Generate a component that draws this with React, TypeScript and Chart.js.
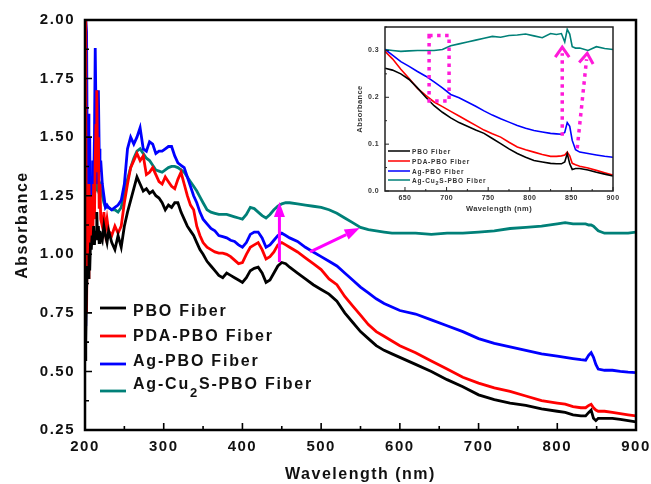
import React, { useEffect, useRef } from "react";
import { Chart, registerables } from "chart.js";

Chart.register(...registerables);

// ---------------- Main chart data ----------------
const wavelengths = [
  200, 201, 202, 203, 204, 205, 206, 207, 208, 209, 210, 211, 212, 213, 214, 215, 216, 217, 218, 219, 220,
  222, 224, 226, 228,
  230, 234, 238, 242, 246, 250, 254, 258, 262, 266, 270, 274, 278, 282, 286, 290, 294, 298, 302, 306, 310,
  314, 318, 322, 326, 330, 334, 338, 342, 346, 350,
  355, 360, 365, 370, 375, 380, 385, 390, 395, 400, 405, 410, 415, 420, 425, 430, 435, 440, 445, 450, 455, 460,
  470, 480, 490, 500, 510, 520, 530, 540, 550, 560, 570, 580, 590, 600,
  620, 640, 660, 680, 700, 720, 740, 760, 780, 800,
  810, 820, 830, 836, 840, 843, 846, 849, 852, 860, 870, 880, 890, 900,
];

const pboFiber = [
  0.55, 0.62, 0.85, 0.95, 0.9, 1.0, 0.93, 1.05, 1.02, 1.08, 1.05, 1.12, 1.04, 1.1, 1.07, 1.18, 1.06, 1.12, 1.05, 1.1, 1.08,
  1.06, 1.12, 1.08, 1.05,
  1.1, 1.05, 1.02, 1.08, 1.03, 1.12, 1.18, 1.23, 1.28, 1.33, 1.3, 1.27, 1.28, 1.26, 1.27, 1.25, 1.24, 1.22, 1.19, 1.21, 1.2,
  1.22, 1.22, 1.18, 1.15, 1.12, 1.1, 1.08, 1.05, 1.02, 1.0,
  0.97, 0.95, 0.93, 0.91, 0.9, 0.92, 0.91, 0.9, 0.89, 0.88, 0.9, 0.93, 0.94, 0.945, 0.92, 0.88, 0.89, 0.92, 0.95, 0.965, 0.96, 0.945,
  0.92, 0.895, 0.87, 0.85, 0.83, 0.8, 0.75, 0.71, 0.67, 0.64, 0.61, 0.59, 0.575, 0.56,
  0.53, 0.5, 0.465, 0.435, 0.4, 0.38, 0.365, 0.355, 0.34, 0.33,
  0.325, 0.315, 0.31, 0.31, 0.325, 0.335, 0.3, 0.29, 0.3, 0.3, 0.3, 0.295, 0.29, 0.285,
];

const pdaPboFiber = [
  2.0, 1.6, 0.75, 1.2, 0.9, 1.3, 1.1, 1.2, 1.05, 1.25, 1.1, 1.3, 1.15, 1.4, 1.55, 1.7, 1.35, 1.5, 1.2, 1.3, 1.15,
  1.12, 1.18, 1.1, 1.15,
  1.1, 1.08, 1.12, 1.09, 1.12, 1.22, 1.3, 1.37, 1.4, 1.43, 1.4, 1.42, 1.34, 1.35, 1.37, 1.34, 1.31, 1.3, 1.33, 1.31, 1.29,
  1.28, 1.32, 1.35, 1.3, 1.25, 1.21, 1.19, 1.12, 1.08, 1.05,
  1.03, 1.02, 1.01, 1.005, 1.005, 1.0, 0.99, 0.975, 0.96, 0.965, 1.0, 1.03, 1.04, 1.05, 1.02, 0.98, 0.99, 1.01, 1.04, 1.05, 1.04, 1.03,
  1.01, 0.985, 0.96, 0.935, 0.895, 0.87, 0.82, 0.78, 0.74, 0.7, 0.67, 0.65, 0.63, 0.61,
  0.58, 0.545, 0.51, 0.475, 0.45, 0.43, 0.415, 0.395, 0.375, 0.365,
  0.36, 0.35, 0.345, 0.345, 0.355, 0.36, 0.345, 0.335, 0.33, 0.33, 0.325, 0.32, 0.315, 0.31,
];

const agPboFiber = [
  0.7, 2.0, 1.95, 1.3, 1.6, 1.2, 1.5, 1.1, 1.3, 1.25, 1.4, 1.3, 1.5, 1.88, 1.6, 1.3, 1.5, 1.7, 1.45, 1.35, 1.4,
  1.3, 1.25, 1.2, 1.21,
  1.2, 1.19, 1.2, 1.21, 1.23, 1.3, 1.45, 1.5, 1.47, 1.5, 1.54, 1.45, 1.44, 1.48, 1.47, 1.43, 1.44, 1.44, 1.45, 1.46, 1.46,
  1.42, 1.39, 1.38, 1.37, 1.33, 1.29, 1.25, 1.22, 1.18, 1.15,
  1.13, 1.11, 1.1, 1.08, 1.075, 1.07, 1.06, 1.055, 1.04, 1.03, 1.05, 1.085, 1.095, 1.095, 1.07, 1.03, 1.04, 1.06, 1.08, 1.09, 1.08, 1.07,
  1.055, 1.03, 1.01, 0.99, 0.97, 0.95, 0.92, 0.89, 0.86, 0.835, 0.81, 0.79, 0.775, 0.76,
  0.745, 0.72, 0.695, 0.67, 0.64, 0.62, 0.605, 0.59, 0.575, 0.565,
  0.56, 0.555, 0.55, 0.548, 0.57, 0.58, 0.56, 0.53, 0.51, 0.505, 0.505, 0.5, 0.497, 0.495,
];

const agCu2sPboFiber = [
  1.63, 1.55, 1.45, 1.38, 1.34, 1.31, 1.3, 1.3, 1.3, 1.29, 1.3, 1.3, 1.29, 1.3, 1.3, 1.29, 1.3, 1.31, 1.31, 1.3, 1.28,
  1.25, 1.22, 1.2, 1.2,
  1.2, 1.19, 1.19, 1.18, 1.2, 1.27, 1.32, 1.37, 1.41, 1.44, 1.45, 1.43, 1.41, 1.4, 1.38, 1.36, 1.355, 1.35, 1.36, 1.37, 1.375,
  1.375, 1.37, 1.36, 1.35, 1.33, 1.31, 1.29, 1.27, 1.245, 1.22,
  1.19, 1.18, 1.175, 1.17, 1.17, 1.17, 1.165, 1.16, 1.155, 1.15, 1.17, 1.2, 1.195, 1.18, 1.165, 1.155, 1.17, 1.19, 1.205, 1.215, 1.22, 1.22,
  1.215, 1.21, 1.205, 1.2, 1.19, 1.175, 1.155, 1.135, 1.115, 1.105, 1.1, 1.095, 1.09, 1.09,
  1.09, 1.085, 1.09, 1.09, 1.095, 1.1, 1.11, 1.115, 1.12, 1.13,
  1.135, 1.13, 1.13, 1.13, 1.125, 1.125, 1.12, 1.11, 1.1, 1.09, 1.09, 1.09, 1.09, 1.095,
];

const seriesLabels = ["PBO Fiber", "PDA-PBO Fiber", "Ag-PBO Fiber", "Ag-Cu\u2082S-PBO Fiber"];
const seriesColors = ["#000000", "#ff0000", "#0000ff", "#008078"];
const mainSeries = [pboFiber, pdaPboFiber, agPboFiber, agCu2sPboFiber];

// main axis ticks
const mainXRange = [200, 900];
const mainYRange = [0.25, 2.0];
const mainXStep = 100;
const mainYStep = 0.25;

// main annotations (data units): [x1, y1, x2, y2]
const mainArrows = [
  [447, 0.967, 447, 1.223],
  [486, 1.01, 549, 1.112],
];

// ---------------- Inset data ----------------
const insetWavelengths = [
  626, 635, 645, 655, 665, 675, 685, 695, 705, 715, 725, 735, 745, 755, 765, 775, 785, 795, 805, 815, 825,
  832, 838, 842, 845, 848, 851, 855, 860, 870, 880, 890, 900,
];
const insetPbo = [
  0.262, 0.258, 0.25, 0.238, 0.22, 0.2, 0.182, 0.168, 0.156, 0.146, 0.138, 0.13, 0.123, 0.112, 0.101, 0.09, 0.08, 0.072, 0.065, 0.062, 0.059,
  0.058, 0.058, 0.062, 0.08, 0.058, 0.046, 0.048, 0.048, 0.045, 0.04, 0.036, 0.032,
];
const insetPdaPbo = [
  0.298, 0.282, 0.26, 0.24, 0.219, 0.204, 0.19, 0.18, 0.17, 0.16, 0.15, 0.14, 0.13, 0.122, 0.115, 0.104, 0.094, 0.088, 0.083, 0.078, 0.074,
  0.074, 0.075, 0.077, 0.083, 0.075, 0.059, 0.056, 0.053, 0.049, 0.044, 0.039, 0.034,
];
const insetAgPbo = [
  0.302, 0.29, 0.276, 0.266, 0.255, 0.245, 0.233, 0.22, 0.206, 0.199, 0.19, 0.181, 0.171, 0.162, 0.154, 0.147, 0.14, 0.134, 0.129, 0.126, 0.123,
  0.122, 0.121, 0.125, 0.146, 0.138, 0.108, 0.088, 0.083, 0.08, 0.077, 0.074, 0.072,
];
const insetAgCu2sPbo = [
  0.302, 0.3, 0.298, 0.299, 0.3, 0.3, 0.3, 0.302, 0.31, 0.314, 0.318, 0.322, 0.326, 0.33, 0.328, 0.332, 0.333, 0.335, 0.331, 0.327, 0.336,
  0.334, 0.336, 0.318, 0.345, 0.335, 0.308, 0.305, 0.305, 0.3, 0.308, 0.304, 0.302,
];
const insetSeries = [insetPbo, insetPdaPbo, insetAgPbo, insetAgCu2sPbo];

const insetXRange = [626, 900];
const insetYRange = [0, 0.35];

// inset annotations (data units)
const insetBox = [679, 0.192, 703, 0.332];
const insetArrows = [
  [839, 0.118, 839, 0.307],
  [857, 0.091, 869, 0.294],
];

const FONT = '"Liberation Sans", Arial, Helvetica, sans-serif';
const MAGENTA = "#ff00ff";
const INSET_MAGENTA = "#ff1ad9";

function drawLabel(ctx: CanvasRenderingContext2D, text: string, x: number, y: number, size: number, subSize: number, subDrop: number) {
  const parts = text.split("\u2082");
  let cx = x;
  ctx.font = `bold ${size}px ${FONT}`;
  ctx.fillText(parts[0], cx, y);
  cx += ctx.measureText(parts[0]).width;
  if (parts.length > 1) {
    ctx.font = `bold ${subSize}px ${FONT}`;
    ctx.fillText("2", cx, y + subDrop);
    cx += ctx.measureText("2").width;
    ctx.font = `bold ${size}px ${FONT}`;
    ctx.fillText(parts[1], cx, y);
  }
}

function drawFilledArrow(ctx: CanvasRenderingContext2D, x1: number, y1: number, x2: number, y2: number, headLen: number, headHalf: number) {
  const dx = x2 - x1, dy = y2 - y1;
  const L = Math.hypot(dx, dy);
  const ux = dx / L, uy = dy / L;
  const nx = -uy, ny = ux;
  const bx = x2 - ux * headLen, by = y2 - uy * headLen;
  ctx.beginPath();
  ctx.moveTo(x1, y1);
  ctx.lineTo(bx, by);
  ctx.stroke();
  ctx.beginPath();
  ctx.moveTo(x2, y2);
  ctx.lineTo(bx + nx * headHalf, by + ny * headHalf);
  ctx.lineTo(bx - nx * headHalf, by - ny * headHalf);
  ctx.closePath();
  ctx.fill();
}

const mainDecor = {
  id: "mainDecor",
  beforeDraw(chart: any) {
    chart.ctx.letterSpacing = "1.5px";
  },
  afterDraw(chart: any) {
    const { ctx, chartArea: a, scales } = chart;
    const xs = scales.x, ys = scales.y;
    ctx.save();
    ctx.letterSpacing = "0px";
    // frame
    ctx.strokeStyle = "#000";
    ctx.lineWidth = 2.5;
    ctx.strokeRect(a.left, a.top, a.right - a.left, a.bottom - a.top);
    // inward ticks
    ctx.lineWidth = 1.6;
    ctx.beginPath();
    for (let v = mainXRange[0]; v <= mainXRange[1] + 1e-6; v += mainXStep / 2) {
      const p = xs.getPixelForValue(v);
      const major = Math.abs((v - mainXRange[0]) % mainXStep) < 1e-6;
      ctx.moveTo(p, a.bottom);
      ctx.lineTo(p, a.bottom - (major ? 7 : 4));
    }
    for (let k = 0; mainYRange[0] + k * mainYStep / 2 <= mainYRange[1] + 1e-6; k++) {
      const v = mainYRange[0] + k * mainYStep / 2;
      const p = ys.getPixelForValue(v);
      ctx.moveTo(a.left, p);
      ctx.lineTo(a.left + (k % 2 === 0 ? 7 : 4), p);
    }
    ctx.stroke();
    // magenta arrows
    ctx.strokeStyle = MAGENTA;
    ctx.fillStyle = MAGENTA;
    ctx.lineWidth = 3;
    for (const [x1, y1, x2, y2] of mainArrows) {
      drawFilledArrow(ctx, xs.getPixelForValue(x1), ys.getPixelForValue(y1), xs.getPixelForValue(x2), ys.getPixelForValue(y2), 15, 5.5);
    }
    // legend
    const lineY = [308, 336, 364, 391];
    const textY = [316, 341, 366, 389];
    ctx.letterSpacing = "1.8px";
    ctx.textBaseline = "alphabetic";
    ctx.textAlign = "left";
    seriesLabels.forEach((label, i) => {
      ctx.strokeStyle = seriesColors[i];
      ctx.lineWidth = 2.8;
      ctx.beginPath();
      ctx.moveTo(100, lineY[i]);
      ctx.lineTo(126, lineY[i]);
      ctx.stroke();
      ctx.fillStyle = "#111";
      drawLabel(ctx, label, 133, textY[i], 16, 13, 8);
    });
    ctx.restore();
  },
};

const insetDecor = {
  id: "insetDecor",
  beforeDraw(chart: any) {
    chart.ctx.letterSpacing = "0.4px";
  },
  afterDraw(chart: any) {
    const { ctx, chartArea: a, scales } = chart;
    const xs = scales.x, ys = scales.y;
    ctx.save();
    ctx.letterSpacing = "0px";
    ctx.strokeStyle = "#222";
    ctx.lineWidth = 1.5;
    ctx.strokeRect(a.left, a.top, a.right - a.left, a.bottom - a.top);
    ctx.lineWidth = 1;
    ctx.beginPath();
    for (let v = 650; v <= insetXRange[1] + 1e-6; v += 25) {
      const p = xs.getPixelForValue(v);
      const major = v % 50 === 0;
      ctx.moveTo(p, a.bottom);
      ctx.lineTo(p, a.bottom - (major ? 4 : 2));
    }
    for (let k = 0; k * 0.05 <= insetYRange[1] + 1e-6; k++) {
      const p = ys.getPixelForValue(k * 0.05);
      ctx.moveTo(a.left, p);
      ctx.lineTo(a.left + (k % 2 === 0 ? 4 : 2), p);
    }
    ctx.stroke();
    // dotted annotations
    ctx.strokeStyle = INSET_MAGENTA;
    ctx.lineWidth = 3.5;
    ctx.setLineDash([3.5, 4.5]);
    const bx1 = xs.getPixelForValue(insetBox[0]);
    const by1 = ys.getPixelForValue(insetBox[1]);
    const bx2 = xs.getPixelForValue(insetBox[2]);
    const by2 = ys.getPixelForValue(insetBox[3]);
    ctx.strokeRect(bx1, by2, bx2 - bx1, by1 - by2);
    for (const [x1, y1, x2, y2] of insetArrows) {
      const px1 = xs.getPixelForValue(x1), py1 = ys.getPixelForValue(y1);
      const px2 = xs.getPixelForValue(x2), py2 = ys.getPixelForValue(y2);
      const L = Math.hypot(px2 - px1, py2 - py1);
      const ux = (px2 - px1) / L, uy = (py2 - py1) / L;
      ctx.setLineDash([3.5, 4.5]);
      ctx.beginPath();
      ctx.moveTo(px1, py1);
      ctx.lineTo(px2 - ux * 6, py2 - uy * 6);
      ctx.stroke();
      ctx.setLineDash([]);
      ctx.lineWidth = 3;
      const nx = -uy, ny = ux;
      ctx.beginPath();
      ctx.moveTo(px2 - ux * 10 + nx * 7, py2 - uy * 10 + ny * 7);
      ctx.lineTo(px2, py2);
      ctx.lineTo(px2 - ux * 10 - nx * 7, py2 - uy * 10 - ny * 7);
      ctx.stroke();
      ctx.lineWidth = 3.5;
    }
    ctx.setLineDash([]);
    // legend
    const lineY = [129, 139, 149, 158];
    ctx.textBaseline = "alphabetic";
    ctx.letterSpacing = "0.8px";
    seriesLabels.forEach((label, i) => {
      ctx.strokeStyle = seriesColors[i];
      ctx.lineWidth = 1.5;
      ctx.beginPath();
      ctx.moveTo(48, lineY[i]);
      ctx.lineTo(70, lineY[i]);
      ctx.stroke();
      ctx.fillStyle = "#333";
      drawLabel(ctx, label, 72, lineY[i] + 2.5, 6.5, 5.5, 2);
    });
    ctx.restore();
  },
};

function noEdgePadding(s: any) {
  s.paddingLeft = 0;
  s.paddingRight = 0;
  s.paddingTop = 0;
  s.paddingBottom = 0;
}

function makeMainConfig(): any {
  const tickFont = { family: FONT, size: 15, weight: "bold" as const };
  const titleFont = { family: FONT, size: 16, weight: "bold" as const };
  return {
    type: "line",
    data: {
      datasets: seriesLabels.map((label, i) => ({
        label,
        data: wavelengths.map((w, j) => ({ x: w, y: mainSeries[i][j] })),
        borderColor: seriesColors[i],
        backgroundColor: seriesColors[i],
        borderWidth: 2.8,
        pointRadius: 0,
        fill: false,
        tension: 0,
      })),
    },
    options: {
      animation: false,
      responsive: false,
      maintainAspectRatio: false,
      layout: { padding: { left: 0, top: 20, right: 15, bottom: 0 } },
      plugins: { legend: { display: false }, tooltip: { enabled: false } },
      scales: {
        x: {
          type: "linear",
          min: mainXRange[0],
          max: mainXRange[1],
          ticks: { stepSize: mainXStep, includeBounds: false, padding: 8, color: "#111", font: tickFont, maxRotation: 0, callback: (v: any) => String(v) },
          grid: { display: false, drawTicks: false },
          border: { display: false },
          title: { display: true, text: "Wavelength (nm)", color: "#111", font: titleFont, padding: { top: 0, bottom: 0 } },
          afterFit: (s: any) => { s.height = 54; noEdgePadding(s); },
        },
        y: {
          type: "linear",
          min: mainYRange[0],
          max: mainYRange[1],
          ticks: { stepSize: mainYStep, includeBounds: false, padding: 10, color: "#111", font: tickFont, callback: (v: any) => Number(v).toFixed(2) },
          grid: { display: false, drawTicks: false },
          border: { display: false },
          title: { display: true, text: "Absorbance", color: "#111", font: titleFont, padding: { top: 13, bottom: 0 } },
          afterFit: (s: any) => { s.width = 85; noEdgePadding(s); },
        },
      },
    },
    plugins: [mainDecor],
  };
}

function makeInsetConfig(): any {
  const tickFont = { family: FONT, size: 7, weight: "bold" as const };
  const titleFont = { family: FONT, size: 7.5, weight: "bold" as const };
  return {
    type: "line",
    data: {
      datasets: seriesLabels.map((label, i) => ({
        label,
        data: insetWavelengths.map((w, j) => ({ x: w, y: insetSeries[i][j] })),
        borderColor: seriesColors[i],
        borderWidth: 1.6,
        pointRadius: 0,
        fill: false,
        tension: 0,
      })),
    },
    options: {
      animation: false,
      responsive: false,
      maintainAspectRatio: false,
      layout: { padding: { left: 0, top: 5, right: 17, bottom: 0 } },
      plugins: { legend: { display: false }, tooltip: { enabled: false } },
      scales: {
        x: {
          type: "linear",
          min: insetXRange[0],
          max: insetXRange[1],
          ticks: { stepSize: 50, includeBounds: false, padding: 3, color: "#333", font: tickFont, maxRotation: 0, callback: (v: any) => String(v) },
          grid: { display: false, drawTicks: false },
          border: { display: false },
          title: { display: true, text: "Wavelength (nm)", color: "#333", font: titleFont, padding: { top: 0, bottom: 5 } },
          afterFit: (s: any) => { s.height = 27; noEdgePadding(s); },
        },
        y: {
          type: "linear",
          min: insetYRange[0],
          max: insetYRange[1],
          ticks: { stepSize: 0.1, includeBounds: false, padding: 6, color: "#333", font: tickFont, callback: (v: any) => Number(v).toFixed(1) },
          grid: { display: false, drawTicks: false },
          border: { display: false },
          title: { display: true, text: "Absorbance", color: "#333", font: titleFont, padding: { top: 15, bottom: 0 } },
          afterFit: (s: any) => { s.width = 45; noEdgePadding(s); },
        },
      },
    },
    plugins: [insetDecor],
  };
}

export default function App() {
  const mainRef = useRef<HTMLCanvasElement>(null);
  const insetRef = useRef<HTMLCanvasElement>(null);

  useEffect(() => {
    document.body.style.margin = "0";
    const main = new Chart(mainRef.current as HTMLCanvasElement, makeMainConfig());
    const inset = new Chart(insetRef.current as HTMLCanvasElement, makeInsetConfig());
    return () => {
      main.destroy();
      inset.destroy();
    };
  }, []);

  return (
    <div style={{ position: "relative", width: 651, height: 484, background: "#fff", overflow: "hidden" }}>
      <canvas ref={mainRef} width={651} height={484} style={{ position: "absolute", left: 0, top: 0 }} />
      <canvas ref={insetRef} width={290} height={196} style={{ position: "absolute", left: 340, top: 22 }} />
    </div>
  );
}
